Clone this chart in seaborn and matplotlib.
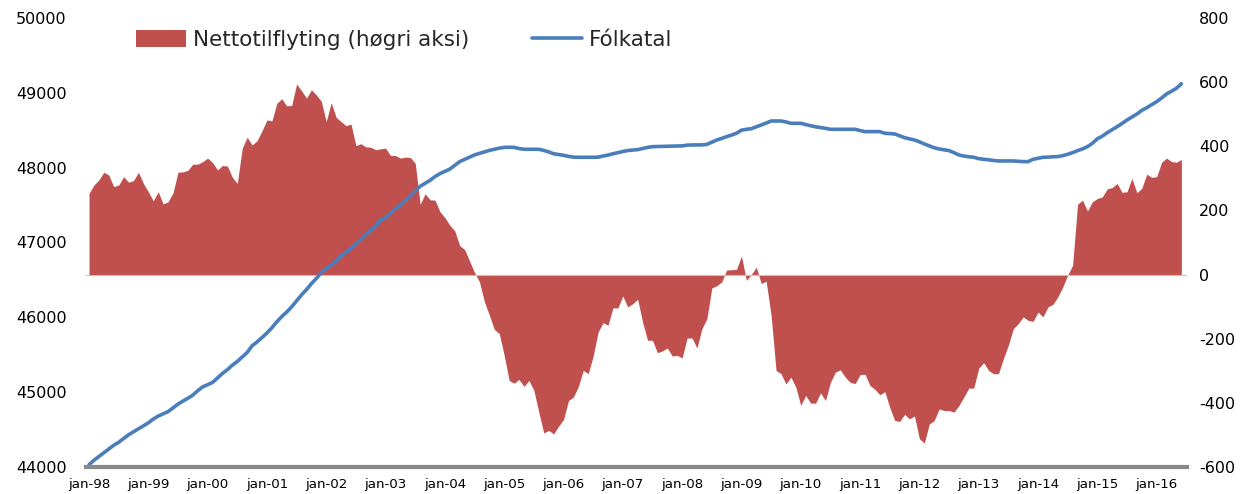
import matplotlib
matplotlib.use("Agg")
import matplotlib.pyplot as plt
import seaborn as sns
import pandas as pd
from matplotlib.patches import Patch
from matplotlib.lines import Line2D

# ---------------- data (monthly, jan-98 .. jun-16) ----------------
folkatal = [
    44030, 44090, 44140, 44190, 44240, 44290, 44330, 44380, 44430, 44470, 44510, 44550,  # 1998
    44590, 44640, 44680, 44710, 44740, 44790, 44840, 44880, 44918, 44960, 45020, 45070,  # 1999
    45100, 45130, 45190, 45250, 45300, 45360, 45410, 45470, 45530, 45620, 45670, 45730,  # 2000
    45790, 45860, 45940, 46010, 46070, 46140, 46220, 46300, 46370, 46450, 46520, 46600,  # 2001
    46650, 46700, 46750, 46820, 46870, 46920, 46980, 47040, 47110, 47160, 47220, 47300,  # 2002
    47330, 47390, 47450, 47500, 47560, 47620, 47690, 47750, 47790, 47830, 47880, 47920,  # 2003
    47950, 47980, 48030, 48080, 48110, 48140, 48170, 48190, 48210, 48230, 48245, 48260,  # 2004
    48270, 48272, 48270, 48255, 48245, 48245, 48245, 48245, 48230, 48210, 48185, 48175,  # 2005
    48165, 48150, 48140, 48138, 48138, 48138, 48138, 48140, 48155, 48168, 48185, 48200,  # 2006
    48215, 48228, 48235, 48240, 48255, 48270, 48280, 48282, 48284, 48286, 48288, 48289,  # 2007
    48290, 48300, 48303, 48303, 48303, 48310, 48340, 48369, 48390, 48414, 48435, 48459,  # 2008
    48500, 48512, 48520, 48545, 48570, 48595, 48623, 48623, 48623, 48610, 48592, 48592,  # 2009
    48592, 48575, 48560, 48545, 48535, 48525, 48512, 48512, 48512, 48512, 48512, 48512,  # 2010
    48495, 48481, 48481, 48481, 48481, 48459, 48455, 48450, 48425, 48400, 48385, 48369,  # 2011
    48345, 48316, 48290, 48265, 48249, 48238, 48227, 48200, 48169, 48155, 48145, 48138,  # 2012
    48120, 48111, 48105, 48095, 48089, 48089, 48089, 48089, 48085, 48080, 48080, 48111,  # 2013
    48125, 48138, 48140, 48145, 48147, 48160, 48178, 48200, 48227, 48250, 48280, 48325,  # 2014
    48385, 48420, 48467, 48507, 48547, 48590, 48636, 48676, 48716, 48765, 48800, 48840,  # 2015
    48881, 48930, 48984, 49020, 49060, 49120,                                            # 2016
]

nettotilflyting = [
    253, 279, 295, 319, 310, 274, 279, 305, 288, 293, 319, 284,                      # 1998
    258, 230, 258, 220, 227, 255, 319, 320, 325, 344, 344, 352,                      # 1999
    363, 349, 326, 340, 338, 303, 284, 394, 428, 404, 417, 448,                      # 2000
    482, 479, 534, 548, 526, 527, 594, 573, 550, 576, 560, 540,                      # 2001
    477, 536, 490, 477, 464, 469, 402, 408, 398, 397, 389, 392,                      # 2002
    394, 371, 371, 363, 366, 365, 347, 219, 252, 233, 232, 196,                      # 2003
    177, 154, 136, 90, 78, 42, 6, -23, -85, -127, -171, -184,                        # 2004
    -252, -330, -339, -327, -349, -330, -361, -429, -494, -486, -497, -473,          # 2005
    -452, -393, -382, -349, -299, -309, -254, -179, -150, -158, -104, -104,          # 2006
    -67, -101, -91, -77, -148, -205, -205, -244, -238, -229, -254, -252,             # 2007
    -260, -198, -198, -229, -169, -138, -42, -35, -23, 14, 15, 16,                   # 2008
    58, -18, 0, 23, -28, -21, -127, -299, -309, -341, -320, -351,                    # 2009
    -408, -377, -401, -401, -369, -393, -336, -304, -297, -320, -336, -340,          # 2010
    -312, -311, -346, -358, -375, -365, -414, -455, -458, -436, -450, -441,          # 2011
    -512, -525, -466, -455, -419, -424, -424, -429, -408, -382, -354, -354,          # 2012
    -292, -275, -299, -309, -309, -262, -220, -169, -153, -132, -143, -146,          # 2013
    -117, -132, -101, -93, -70, -39, -2, 29, 219, 232, 198, 227,                     # 2014
    237, 242, 267, 271, 284, 256, 258, 300, 255, 269, 313, 303,                      # 2015
    305, 350, 363, 352, 350, 359,                                                    # 2016
]

x_labels = ["jan-98", "jan-99", "jan-00", "jan-01", "jan-02", "jan-03", "jan-04",
            "jan-05", "jan-06", "jan-07", "jan-08", "jan-09", "jan-10", "jan-11",
            "jan-12", "jan-13", "jan-14", "jan-15", "jan-16"]

left_ticks = [44000, 45000, 46000, 47000, 48000, 49000, 50000]
right_ticks = [-600, -400, -200, 0, 200, 400, 600, 800]

# ---------------- plot ----------------
RED = "#C0504D"
BLUE = "#4A7EBB"

sns.set_theme(style="white")
plt.rcParams["font.family"] = ["DejaVu Sans"]

df = pd.DataFrame({"m": range(len(folkatal)), "folk": folkatal, "netto": nettotilflyting})

fig = plt.figure(figsize=(12.58, 4.94), dpi=100)
ax = fig.add_axes([0.0684, 0.0547, 0.875, 0.909])
ax2 = ax.twinx()
ax.set_zorder(ax2.get_zorder() + 1)
ax.patch.set_visible(False)

ax2.fill_between(df["m"], 0, df["netto"], color=RED, linewidth=0)
ax2.axhline(0, color="#E8B4B3", lw=0.8)
sns.lineplot(data=df, x="m", y="folk", ax=ax, color=BLUE, lw=2.6)

ax.set_xlim(-0.6, 222.1)
ax.set_ylim(44000, 50000)
ax2.set_ylim(-600, 800)

ax.set_xticks([12 * i for i in range(len(x_labels))])
ax.set_xticklabels(x_labels, fontsize=9.6, color="black")
ax.set_yticks(left_ticks)
ax.set_yticklabels([str(v) for v in left_ticks], fontsize=11.5, color="black")
ax2.set_yticks(right_ticks)
ax2.set_yticklabels([str(v) for v in right_ticks], fontsize=11.5, color="black")

ax.set_xlabel("")
ax.set_ylabel("")
ax2.set_ylabel("")

for a in (ax, ax2):
    for s in a.spines.values():
        s.set_visible(False)
ax.spines["bottom"].set_visible(True)
ax.spines["bottom"].set_color("#898989")
ax.spines["bottom"].set_linewidth(3)

ax.tick_params(axis="x", length=0, pad=8)
ax.tick_params(axis="y", length=0, pad=14)
ax2.tick_params(axis="y", length=0, pad=9)
ax.grid(False)
ax2.grid(False)

handles = [Patch(facecolor=RED, edgecolor="none"),
           Line2D([], [], color=BLUE, lw=2.6)]
fig.legend(handles, ["Nettotilflyting (høgri aksi)", "Fólkatal"],
           loc="center left", bbox_to_anchor=(0.108, 0.919), ncol=2,
           frameon=False, fontsize=15.5, handlelength=2.35, handleheight=0.85,
           handletextpad=0.3, columnspacing=2.9, borderpad=0, borderaxespad=0)

fig.savefig("out.png", dpi=100)
